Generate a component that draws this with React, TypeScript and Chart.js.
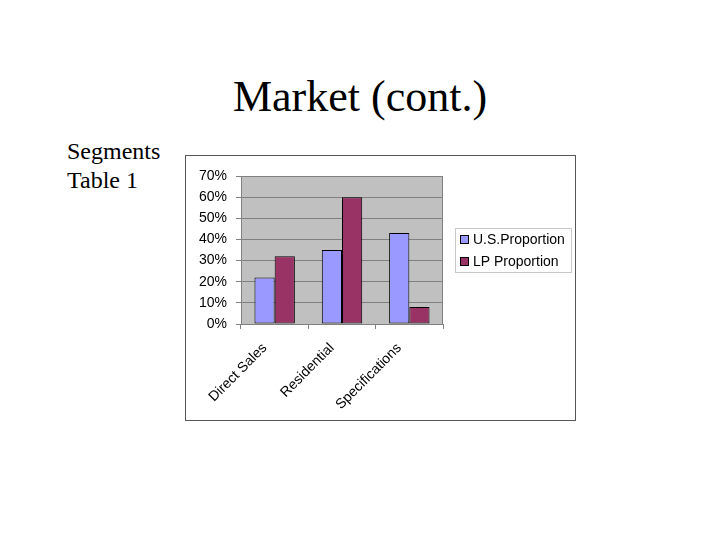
import React, { useEffect, useRef } from "react";
import { Chart, registerables } from "chart.js";

Chart.register(...registerables);

const categories = ["Direct Sales", "Residential", "Specifications"];
const usProportion = [22, 35, 43];
const lpProportion = [32, 60, 8];
const seriesNames = ["U.S.Proportion", "LP Proportion"];
const seriesColors = ["#9999ff", "#993366"];

const plotBackground = {
  id: "plotBackground",
  beforeDraw(chart: any) {
    const { ctx, chartArea } = chart;
    ctx.save();
    ctx.fillStyle = "#c0c0c0";
    ctx.fillRect(chartArea.left, chartArea.top, chartArea.right - chartArea.left, chartArea.bottom - chartArea.top);
    ctx.restore();
  },
  afterDraw(chart: any) {
    const { ctx, chartArea } = chart;
    ctx.save();
    ctx.strokeStyle = "#808080";
    ctx.lineWidth = 1;
    ctx.beginPath();
    ctx.moveTo(Math.round(chartArea.right) - 0.5, chartArea.top);
    ctx.lineTo(Math.round(chartArea.right) - 0.5, chartArea.bottom);
    ctx.stroke();
    ctx.restore();
  },
};

const boxLegend = {
  id: "boxLegend",
  afterDraw(chart: any) {
    const { ctx } = chart;
    const x = 269, y = 72, w = 116, h = 44;
    ctx.save();
    ctx.fillStyle = "#ffffff";
    ctx.fillRect(x, y, w, h);
    ctx.strokeStyle = "#c8c8c8";
    ctx.lineWidth = 1;
    ctx.strokeRect(x + 0.5, y + 0.5, w, h);
    ctx.font = "14px 'Liberation Sans', Arial, sans-serif";
    ctx.textBaseline = "middle";
    chart.data.datasets.forEach((ds: any, i: number) => {
      const cy = y + 11 + i * 22;
      ctx.fillStyle = ds.backgroundColor;
      ctx.fillRect(x + 5, cy - 4, 9, 9);
      ctx.strokeStyle = "#000";
      ctx.strokeRect(x + 5.5, cy - 3.5, 8, 8);
      ctx.fillStyle = "#000";
      ctx.fillText(ds.label, x + 18, cy + 1);
    });
    ctx.restore();
  },
};

function ChartBox() {
  const ref = useRef<HTMLCanvasElement>(null);
  useEffect(() => {
    if (!ref.current) return;
    const chart = new Chart(ref.current, {
      type: "bar",
      data: {
        labels: categories,
        datasets: [
          {
            label: seriesNames[0],
            data: usProportion,
            backgroundColor: seriesColors[0],
            borderColor: "#000",
            borderWidth: 1,
            borderSkipped: false,
            categoryPercentage: 0.6,
            barPercentage: 1,
          },
          {
            label: seriesNames[1],
            data: lpProportion,
            backgroundColor: seriesColors[1],
            borderColor: "#000",
            borderWidth: 1,
            borderSkipped: false,
            categoryPercentage: 0.6,
            barPercentage: 1,
          },
        ],
      },
      options: {
        responsive: false,
        animation: false,
        devicePixelRatio: 1,
        layout: { padding: { top: 20, right: 132, left: 0, bottom: 0 } },
        plugins: { legend: { display: false }, tooltip: { enabled: false } },
        scales: {
          x: {
            grid: { drawOnChartArea: false, drawTicks: true, tickLength: 5, color: "#808080", offset: true },
            border: { color: "#808080" },
            ticks: {
              color: "#000",
              font: { family: "'Liberation Sans', Arial, sans-serif", size: 14 },
              minRotation: 45,
              maxRotation: 45,
              padding: 11,
              labelOffset: -10,
            },
            afterFit(scale: any) {
              scale.height = 96;
            },
          },
          y: {
            min: 0,
            max: 70,
            grid: { color: "#808080", tickLength: 5 },
            border: { color: "#808080" },
            ticks: {
              stepSize: 10,
              color: "#000",
              padding: 9,
              font: { family: "'Liberation Sans', Arial, sans-serif", size: 14 },
              callback: (v: any) => v + "%",
            },
            afterFit(scale: any) {
              scale.width = 55;
            },
          },
        },
      },
      plugins: [plotBackground, boxLegend],
    });
    return () => chart.destroy();
  }, []);
  return <canvas ref={ref} width={389} height={264} style={{ display: "block", width: 389, height: 264 }} />;
}

export default function App() {
  return (
    <div style={{ position: "fixed", left: 0, top: 0, width: 720, height: 540, background: "#fff", fontFamily: "'Liberation Serif', 'Times New Roman', serif" }}>
      <div style={{ position: "absolute", left: 0, top: 75, width: 720, textAlign: "center", fontSize: 44, lineHeight: "44px", color: "#000" }}>
        Market (cont.)
      </div>
      <div style={{ position: "absolute", left: 67, top: 137, fontSize: 24, lineHeight: "29px", color: "#000" }}>
        Segments<br />Table 1
      </div>
      <div style={{ position: "absolute", left: 185, top: 155, width: 389, height: 264, border: "1px solid #555", background: "#fff" }}>
        <ChartBox />
      </div>
    </div>
  );
}
